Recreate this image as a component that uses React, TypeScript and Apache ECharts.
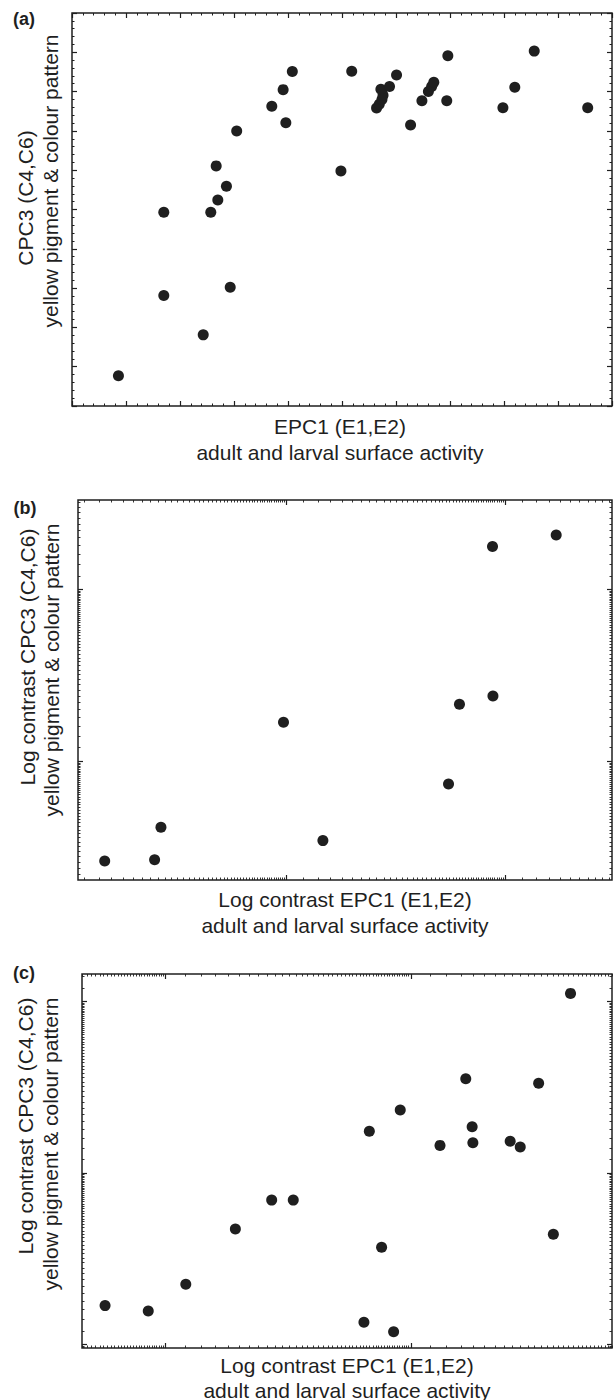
import React, { useEffect, useRef } from "react";
import * as echarts from "echarts";

// ---------- data ----------
const panelLabels = ["(a)", "(b)", "(c)"];
const xTitleA = ["EPC1 (E1,E2)", "adult and larval surface activity"];
const yTitleA = ["CPC3 (C4,C6)", "yellow pigment & colour pattern"];
const xTitleLog = ["Log contrast EPC1 (E1,E2)", "adult and larval surface activity"];
const yTitleLog = ["Log contrast CPC3 (C4,C6)", "yellow pigment & colour pattern"];

// panel (a): EPC1 vs CPC3 (arbitrary linear units)
const aX = [0.86, 1.7, 1.7, 2.43, 2.57, 2.7, 2.67, 2.86, 2.93, 3.05, 3.7, 3.91, 3.96, 4.08, 4.98, 5.18,
  5.64, 5.69, 5.74, 5.76, 5.72, 5.88, 6.01, 6.27, 6.48, 6.6, 6.66, 6.7, 6.94, 6.96, 7.98, 8.2, 8.56, 9.55];
const aY = [0.77, 2.81, 4.93, 1.81, 4.93, 5.24, 6.11, 5.59, 3.02, 7.0, 7.63, 8.05, 7.21, 8.51, 5.98, 8.52,
  7.58, 7.68, 7.8, 7.91, 8.06, 8.13, 8.42, 7.15, 7.77, 8.0, 8.13, 8.24, 7.77, 8.91, 7.59, 8.11, 9.03, 7.59];

// panel (b): log contrasts (decades)
const bX = [-0.828, -0.6, -0.571, -0.011, 0.169, 0.743, 0.793, 0.946, 0.944, 1.235];
const bY = [-0.58, -0.572, -0.383, 0.228, -0.461, -0.132, 0.332, 0.38, 1.249, 1.317];

// panel (c): log contrasts (decades)
const cX = [-0.246, -0.07, 0.083, 0.285, 0.433, 0.521, 0.831, 0.881, 0.809, 0.93,
  0.957, 1.119, 1.224, 1.25, 1.253, 1.405, 1.446, 1.521, 1.581, 1.651];
const cY = [0.227, 0.196, 0.351, 0.673, 0.842, 0.842, 1.243, 0.567, 0.13, 0.075,
  1.367, 1.161, 1.549, 1.27, 1.176, 1.185, 1.151, 1.523, 0.643, 2.047];

// axis extents
const aXRange = [0, 10];
const aYRange = [0, 10];
const bXRange = [-0.95, 1.49];
const bYRange = [-0.69, 1.52];
const cXRange = [-0.34, 1.82];
const cYRange = [-0.02, 2.16];

// ---------- styles ----------
const INK = "#1f1f1f";
const FONT = "'Liberation Sans', Arial, Helvetica, sans-serif";

function logTickValues(range: number[]) {
  const major: number[] = [];
  const minor: number[] = [];
  for (let d = Math.floor(range[0]) - 1; d <= Math.ceil(range[1]); d++) {
    if (d >= range[0] && d <= range[1]) major.push(d);
    for (let k = 12; k <= 98; k += 2) {
      const v = d + Math.log10(k / 10);
      if (v > range[0] && v < range[1]) minor.push(v);
    }
  }
  return { major, minor };
}

function baseAxis(gridIndex: number, position: string, range: number[]) {
  return {
    type: "value",
    gridIndex,
    position,
    min: range[0],
    max: range[1],
    axisLine: { show: false, onZero: false },
    axisLabel: { show: false },
    splitLine: { show: false },
  };
}

function linAxes(dim: "x" | "y", gridIndex: number, range: number[]) {
  const positions = dim === "x" ? ["bottom", "top"] : ["left", "right"];
  return positions.map((p) => ({
    ...baseAxis(gridIndex, p, range),
    interval: 1,
    axisTick: { show: true, inside: true, length: 5, lineStyle: { color: INK, width: 1.2 } },
    minorTick: { show: true, splitNumber: 5, length: 2.5, lineStyle: { color: INK, width: 1 } },
  }));
}

function logAxes(dim: "x" | "y", gridIndex: number, range: number[]) {
  const positions = dim === "x" ? ["bottom", "top"] : ["left", "right"];
  const t = logTickValues(range);
  const out: any[] = [];
  positions.forEach((p) => {
    out.push({
      ...baseAxis(gridIndex, p, range),
      axisTick: { show: true, inside: true, length: 5, customValues: t.major, lineStyle: { color: INK, width: 1.2 } },
    });
    out.push({
      ...baseAxis(gridIndex, p, range),
      axisTick: { show: true, inside: true, length: 2.5, customValues: t.minor, lineStyle: { color: INK, width: 0.9 } },
    });
  });
  return out;
}

function pairs(xs: number[], ys: number[]) {
  return xs.map((x, i) => [x, ys[i]]);
}

function text(str: string, x: number, y: number, opts: any = {}) {
  return {
    type: "text",
    x,
    y,
    rotation: opts.rotate ? Math.PI / 2 : 0,
    silent: true,
    style: {
      text: str,
      fill: INK,
      font: `${opts.bold ? "bold " : ""}${opts.size || 21}px ${FONT}`,
      textAlign: "center",
      textVerticalAlign: "middle",
    },
  };
}

export default function App() {
  const ref = useRef<HTMLDivElement>(null);

  useEffect(() => {
    document.body.style.margin = "0";
    if (!ref.current) return;
    const chart = echarts.init(ref.current, null, { renderer: "svg" });

    const grids = [
      { left: 72, top: 13, width: 540, height: 393 },
      { left: 78, top: 500, width: 534, height: 380 },
      { left: 82, top: 974, width: 530, height: 374 },
    ].map((g) => ({
      ...g,
      show: true,
      borderColor: INK,
      borderWidth: 1.5,
      backgroundColor: "transparent",
      containLabel: false,
    }));

    const xAxes = [
      ...linAxes("x", 0, aXRange),
      ...logAxes("x", 1, bXRange),
      ...logAxes("x", 2, cXRange),
    ];
    const yAxes = [
      ...linAxes("y", 0, aYRange),
      ...logAxes("y", 1, bYRange),
      ...logAxes("y", 2, cYRange),
    ];

    const scatter = (data: number[][], axisIndex: number) => ({
      type: "scatter",
      xAxisIndex: axisIndex,
      yAxisIndex: axisIndex,
      data,
      symbol: "circle",
      symbolSize: 11,
      silent: true,
      itemStyle: { color: INK, opacity: 1 },
    });

    const graphic = [
      text(panelLabels[0], 24, 19, { bold: true, size: 18 }),
      text(panelLabels[1], 25, 508, { bold: true, size: 18 }),
      text(panelLabels[2], 24, 973, { bold: true, size: 18 }),

      text(xTitleA[0], 340, 426),
      text(xTitleA[1], 340, 452),
      text(yTitleA[0], 25, 198, { rotate: true }),
      text(yTitleA[1], 50, 181, { rotate: true }),

      text(xTitleLog[0], 345, 899),
      text(xTitleLog[1], 345, 925),
      text(yTitleLog[0], 27, 657, { rotate: true }),
      text(yTitleLog[1], 51, 670, { rotate: true }),

      text(xTitleLog[0], 347, 1365),
      text(xTitleLog[1], 347, 1390),
      text(yTitleLog[0], 25, 1126, { rotate: true }),
      text(yTitleLog[1], 50, 1144, { rotate: true }),
    ];

    chart.setOption({
      animation: false,
      backgroundColor: "#fff",
      textStyle: { fontFamily: FONT },
      grid: grids,
      xAxis: xAxes,
      yAxis: yAxes,
      series: [
        scatter(pairs(aX, aY), 0),
        scatter(pairs(bX, bY), 2),
        scatter(pairs(cX, cY), 6),
      ],
      graphic,
    });

    return () => chart.dispose();
  }, []);

  return <div ref={ref} style={{ width: 614, height: 1400 }} />;
}
